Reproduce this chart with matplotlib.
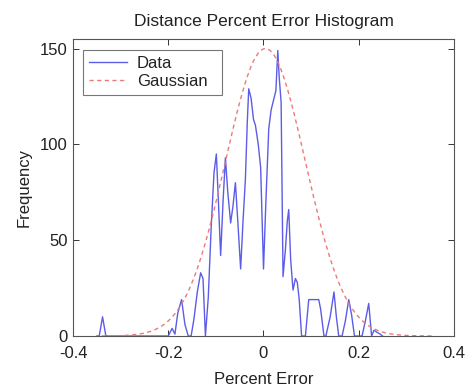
import numpy as np
import matplotlib
matplotlib.use("Agg")
import matplotlib.pyplot as plt

plt.rcParams['font.family'] = ['Liberation Sans', 'DejaVu Sans']

# Histogram trace (percent error bin position, count)
data_x = [-0.350, -0.345, -0.338, -0.331, -0.200, -0.192, -0.186, -0.180, -0.172,
          -0.165, -0.158, -0.152, -0.146, -0.139, -0.132, -0.127, -0.122, -0.116,
          -0.110, -0.104, -0.099, -0.095, -0.090, -0.085, -0.080, -0.075, -0.069,
          -0.064, -0.059, -0.054, -0.048, -0.043, -0.038, -0.034, -0.031, -0.026,
          -0.021, -0.017, -0.011, -0.006, 0.000, 0.005, 0.011, 0.016, 0.021, 0.026,
          0.030, 0.033, 0.037, 0.041, 0.046, 0.050, 0.053, 0.057, 0.062, 0.067,
          0.071, 0.075, 0.080, 0.088, 0.095, 0.103, 0.110, 0.116, 0.120, 0.127,
          0.131, 0.140, 0.148, 0.153, 0.158, 0.165, 0.172, 0.179, 0.185, 0.191,
          0.207, 0.214, 0.221, 0.227, 0.232, 0.238, 0.245, 0.250]
data_y = [0, 0, 10, 0, 0, 4, 1, 12, 19,
          6, 0, 0, 9, 23, 33, 30, 0, 20,
          56, 85, 95, 72, 42, 70, 93, 75, 59,
          68, 80, 60, 35, 60, 82, 112, 129, 124,
          113, 110, 100, 88, 35, 70, 108, 118, 123, 128,
          149, 135, 122, 31, 45, 60, 66, 40, 24, 30,
          28, 19, 0, 0, 19, 19, 19, 19, 14, 0,
          0, 10, 23, 10, 0, 0, 8, 19, 11, 0,
          0, 8, 17, 0, 3, 2, 1, 0]

# Gaussian fit parameters
gauss_peak = 150
gauss_mean = 0.004
gauss_sigma = 0.084
gauss_range = (-0.34, 0.36)

x_ticks = [-0.4, -0.2, 0, 0.2, 0.4]
x_ticklabels = ['-0.4', '-0.2', '0', '0.2', '0.4']
y_ticks = [0, 50, 100, 150]

fig = plt.figure(figsize=(4.66, 3.86), dpi=100)
fig.patch.set_facecolor('white')
ax = fig.add_axes([0.1567, 0.1295, 0.8175, 0.7695])

ax.plot(data_x, data_y, color='#5c5ce8', lw=1.0, label='Data')
gx = np.linspace(gauss_range[0], gauss_range[1], 300)
gy = gauss_peak * np.exp(-(gx - gauss_mean) ** 2 / (2 * gauss_sigma ** 2))
ax.plot(gx, gy, color='#ec7a7a', lw=1.0, ls=(0, (3, 2.5)), label='Gaussian')

ax.set_xlim(-0.4, 0.4)
ax.set_ylim(0, 155)
ax.set_xticks(x_ticks)
ax.set_xticklabels(x_ticklabels)
ax.set_yticks(y_ticks)
ax.tick_params(direction='in', length=4, width=0.7, colors='#333333',
               labelcolor='#222222', labelsize=12, top=True, right=True)
ax.tick_params(axis='x', pad=7)
ax.tick_params(axis='y', pad=4)
for s in ax.spines.values():
    s.set_color('#555555')
    s.set_linewidth(0.8)

ax.set_title('Distance Percent Error Histogram', fontsize=12.5, color='#222222', pad=9)
ax.set_xlabel('Percent Error', fontsize=12, color='#222222', labelpad=8)
ax.set_ylabel('Frequency', fontsize=12, color='#222222', labelpad=6)

leg = ax.legend(loc='upper left', bbox_to_anchor=(0.026, 0.0, 0.365, 0.963),
                mode='expand', fontsize=12,
                frameon=True, fancybox=False, handlelength=2.3, handletextpad=0.6,
                borderpad=0.35, labelspacing=0.2, borderaxespad=0)
leg.get_frame().set_edgecolor('#555555')
leg.get_frame().set_linewidth(0.8)
for t in leg.get_texts():
    t.set_color('#222222')

fig.savefig('out.png', dpi=100, facecolor='white')
